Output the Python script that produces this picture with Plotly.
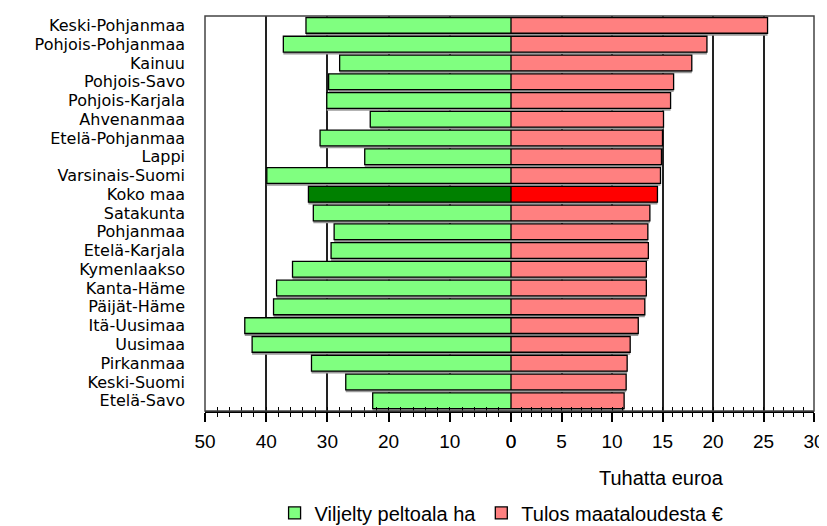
import plotly.graph_objects as go

categories = ["Keski-Pohjanmaa", "Pohjois-Pohjanmaa", "Kainuu", "Pohjois-Savo",
              "Pohjois-Karjala", "Ahvenanmaa", "Etelä-Pohjanmaa", "Lappi",
              "Varsinais-Suomi", "Koko maa", "Satakunta", "Pohjanmaa",
              "Etelä-Karjala", "Kymenlaakso", "Kanta-Häme", "Päijät-Häme",
              "Itä-Uusimaa", "Uusimaa", "Pirkanmaa", "Keski-Suomi", "Etelä-Savo"]
peltoala_ha = [33.5, 37.2, 28.0, 29.8, 30.1, 23.0, 31.2, 23.9, 39.9, 33.1, 32.3,
               28.9, 29.4, 35.7, 38.3, 38.8, 43.5, 42.3, 32.6, 27.0, 22.6]
tulos_teur = [25.4, 19.4, 17.9, 16.1, 15.8, 15.1, 15.0, 14.9, 14.8, 14.5, 13.75,
              13.55, 13.6, 13.4, 13.4, 13.25, 12.6, 11.8, 11.5, 11.4, 11.2]
left_ticks = [50, 40, 30, 20, 10, 0]
right_ticks = [0, 5, 10, 15, 20, 25, 30]
total_label = "Koko maa"

green = ["rgb(0,128,0)" if c == total_label else "rgb(128,255,128)" for c in categories]
red = ["rgb(255,0,0)" if c == total_label else "rgb(255,128,128)" for c in categories]

FONT = "Liberation Sans"
BW = 0.84
split = 306 / 609

fig = go.Figure()
# shadows
fig.add_trace(go.Bar(y=categories, x=peltoala_ha, orientation="h", xaxis="x", yaxis="y",
                     marker=dict(color="#9a9a9a", line=dict(width=0)),
                     width=BW, offset=-BW / 2 + 0.13, showlegend=False, hoverinfo="skip"))
fig.add_trace(go.Bar(y=categories, x=tulos_teur, orientation="h", xaxis="x2", yaxis="y",
                     marker=dict(color="#9a9a9a", line=dict(width=0)),
                     width=BW, offset=-BW / 2 + 0.13, showlegend=False, hoverinfo="skip"))
# bars
fig.add_trace(go.Bar(y=categories, x=peltoala_ha, orientation="h", xaxis="x", yaxis="y",
                     name="Viljelty peltoala ha",
                     marker=dict(color=green, line=dict(color="black", width=1.3)),
                     width=BW, offset=-BW / 2))
fig.add_trace(go.Bar(y=categories, x=tulos_teur, orientation="h", xaxis="x2", yaxis="y",
                     name="Tulos maataloudesta €",
                     marker=dict(color=red, line=dict(color="black", width=1.3)),
                     width=BW, offset=-BW / 2))
# helper traces for overlay tick axes
fig.add_trace(go.Scatter(x=[None], y=[None], xaxis="x3", yaxis="y", showlegend=False, hoverinfo="skip"))
fig.add_trace(go.Scatter(x=[None], y=[None], xaxis="x4", yaxis="y", showlegend=False, hoverinfo="skip"))

tickfont = dict(family=FONT, size=19, color="black")
ytickfont = dict(family="DejaVu Sans", size=16, color="black")

fig.update_layout(
    width=819, height=518,
    margin=dict(l=197, r=13, t=8, b=115, autoexpand=False),
    paper_bgcolor="white", plot_bgcolor="white",
    barmode="overlay",
    font=dict(family=FONT, size=20, color="black"),
    xaxis=dict(domain=[0, split], range=[50, 0], anchor="y", automargin=False,
               tickvals=left_ticks, ticktext=[str(v) for v in left_ticks],
               showgrid=True, gridcolor="#222", gridwidth=1.5,
               zeroline=False, showline=True, linecolor="black", linewidth=1.5,
               ticks="outside", ticklen=9, tickwidth=1.5, tickcolor="black",
               minor=dict(dtick=2, ticks="outside", ticklen=4, tickwidth=1.3,
                          tickcolor="black", showgrid=False),
               tickfont=tickfont, ticklabelstandoff=3, ticklabeloverflow="allow",
               fixedrange=True),
    xaxis2=dict(domain=[split, 1], range=[0, 30], anchor="y", automargin=False,
                tickvals=right_ticks, ticktext=[str(v) for v in right_ticks],
                showgrid=True, gridcolor="#222", gridwidth=1.5,
                zeroline=False, showline=True, linecolor="black", linewidth=1.5,
                ticks="outside", ticklen=9, tickwidth=1.5, tickcolor="black",
                minor=dict(dtick=1, ticks="outside", ticklen=4, tickwidth=1.3,
                           tickcolor="black", showgrid=False),
                tickfont=tickfont, ticklabelstandoff=3, ticklabeloverflow="allow",
                fixedrange=True),
    xaxis3=dict(domain=[0, split], range=[50, 0], anchor="y", overlaying="x",
                automargin=False,
                tickvals=left_ticks, showticklabels=False, showgrid=False,
                zeroline=False, showline=False,
                ticks="inside", ticklen=4, tickwidth=1.3, tickcolor="black",
                minor=dict(dtick=2, ticks="inside", ticklen=4, tickwidth=1.3,
                           tickcolor="black", showgrid=False)),
    xaxis4=dict(domain=[split, 1], range=[0, 30], anchor="y", overlaying="x2",
                automargin=False,
                tickvals=right_ticks, showticklabels=False, showgrid=False,
                zeroline=False, showline=False,
                ticks="inside", ticklen=4, tickwidth=1.3, tickcolor="black",
                minor=dict(dtick=1, ticks="inside", ticklen=4, tickwidth=1.3,
                           tickcolor="black", showgrid=False)),
    yaxis=dict(categoryorder="array", categoryarray=categories,
               tickmode="array", tickvals=categories, ticktext=categories,
               autorange="reversed", showgrid=False, zeroline=False, automargin=False,
               showline=False, ticks="", tickfont=ytickfont,
               ticklabelstandoff=19, fixedrange=True),
    legend=dict(orientation="h", x=0.487, xanchor="center", y=-0.258, yanchor="middle",
                font=dict(family=FONT, size=20, color="black"),
                itemwidth=30, bgcolor="rgba(0,0,0,0)", traceorder="normal"),
    annotations=[dict(text="Tuhatta euroa", xref="paper", yref="paper",
                      x=0.75, y=-0.17, xanchor="center", yanchor="middle",
                      showarrow=False, font=dict(family=FONT, size=20, color="black"))],
    shapes=[dict(type="rect", xref="paper", yref="paper", x0=0, x1=1, y0=0, y1=1,
                 line=dict(color="#444", width=1.5), layer="above")],
)

fig.write_html("out.html")
